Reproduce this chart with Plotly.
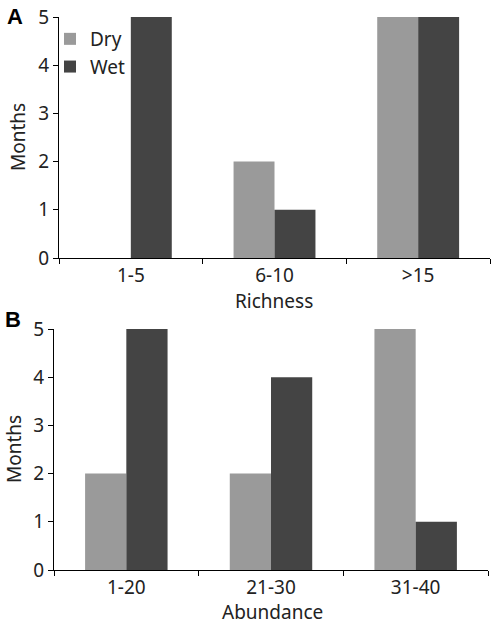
import plotly.graph_objects as go

rich_cats = ["1-5", "6-10", ">15"]
rich_dry = [0, 2, 5]
rich_wet = [5, 1, 5]

abund_cats = ["1-20", "21-30", "31-40"]
abund_dry = [2, 2, 5]
abund_wet = [5, 4, 1]

DRY = "#9a9a9a"
WET = "#444444"
W, H = 492, 629
FONT = "Noto Sans"

def bar_marker(c):
    return dict(color=c, line=dict(width=0))

fig = go.Figure()
fig.add_trace(go.Bar(x=rich_cats, y=rich_dry, name="Dry", marker=bar_marker(DRY), xaxis="x", yaxis="y"))
fig.add_trace(go.Bar(x=rich_cats, y=rich_wet, name="Wet", marker=bar_marker(WET), xaxis="x", yaxis="y"))
fig.add_trace(go.Bar(x=abund_cats, y=abund_dry, name="Dry", showlegend=False, marker=bar_marker(DRY), xaxis="x2", yaxis="y2"))
fig.add_trace(go.Bar(x=abund_cats, y=abund_wet, name="Wet", showlegend=False, marker=bar_marker(WET), xaxis="x2", yaxis="y2"))

def fx(px):
    return px / W

def fy(py):
    return 1 - py / H

axis_common = dict(showline=True, linecolor="black", linewidth=1.3, ticks="outside",
                   ticklen=5, tickcolor="black", tickwidth=1.3, showgrid=False, zeroline=False,
                   tickfont=dict(size=19, color="#222"), automargin=False)

fig.update_layout(
    width=W, height=H,
    margin=dict(l=0, r=0, t=0, b=0, autoexpand=False),
    paper_bgcolor="white", plot_bgcolor="white",
    font=dict(family=FONT, color="#222"),
    barmode="group", bargap=0.43, bargroupgap=0,
    xaxis=dict(domain=[fx(59), fx(490)], anchor="y", tickson="boundaries", **axis_common),
    yaxis=dict(domain=[fy(258), fy(17)], anchor="x", range=[0, 5], dtick=1, **axis_common),
    xaxis2=dict(domain=[fx(54), fx(488)], anchor="y2", tickson="boundaries", **axis_common),
    yaxis2=dict(domain=[fy(570), fy(329)], anchor="x2", range=[0, 5], dtick=1, **axis_common),
    legend=dict(x=fx(50), y=fy(20), xanchor="left", yanchor="top", font=dict(size=19, color="#222"),
                bgcolor="rgba(0,0,0,0)", itemwidth=30, tracegroupgap=0),
    showlegend=True,
)

anns = [
    dict(text="<b>A</b>", x=fx(15), y=fy(17), font=dict(size=22, color="black", family="Liberation Sans")),
    dict(text="<b>B</b>", x=fx(12.5), y=fy(319), font=dict(size=22, color="black", family="Liberation Sans")),
    dict(text="Months", x=fx(18), y=fy(137), textangle=-90, font=dict(size=19)),
    dict(text="Months", x=fx(14), y=fy(449), textangle=-90, font=dict(size=19)),
    dict(text="Richness", x=fx(274), y=fy(301), font=dict(size=19)),
    dict(text="Abundance", x=fx(272), y=fy(612), font=dict(size=19)),
]
for a in anns:
    fig.add_annotation(xref="paper", yref="paper", showarrow=False, xanchor="center", yanchor="middle", **a)

fig.write_html("out.html", config={"displayModeBar": False},
               post_script="document.body.style.margin='0';")
